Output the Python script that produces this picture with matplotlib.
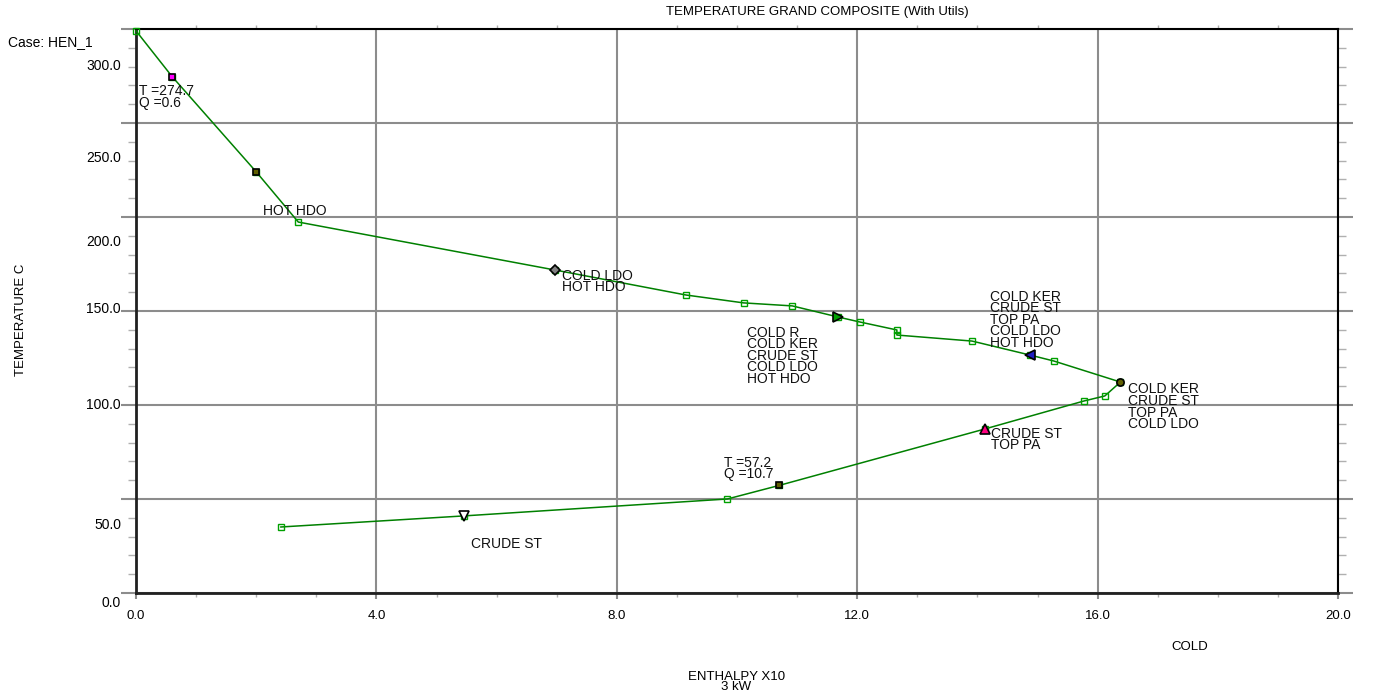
import matplotlib.pyplot as plt
from matplotlib.ticker import MultipleLocator

plt.rcParams['font.family'] = ['Liberation Sans', 'DejaVu Sans']

# grand composite curve (enthalpy x10^3 kW, temperature C)
enthalpy = [0.0, 0.6, 2.0, 2.7, 6.97, 9.15, 10.11, 10.92, 11.68, 12.05, 12.66, 12.66,
            13.91, 14.87, 15.27, 16.38, 16.12, 15.77, 14.12, 10.7, 9.84, 5.46, 2.41]
temperature = [299.0, 274.7, 224.0, 197.3, 171.8, 158.5, 154.3, 152.7, 146.8, 144.1, 139.9, 137.2,
               134.0, 126.6, 123.4, 112.2, 104.8, 102.1, 87.2, 57.2, 50.0, 41.0, 35.1]

# utility / stream change points: (index, marker, face colour, size)
special_pts = [(1, 's', '#ff00ff', 4.6), (2, 's', '#606000', 4.6), (4, 'D', '#808080', 4.6),
               (8, '>', '#00a000', 6.5), (13, '<', '#2020c0', 6.5), (15, 'o', '#606000', 5.2),
               (18, '^', '#ff0080', 6.5), (19, 's', '#606000', 4.6), (21, 'v', 'white', 6.5)]

# text labels: (text, Q, T)
labels = [
    ('T =274.7\nQ =0.6', 0.05, 270.5),
    ('HOT HDO', 2.11, 207.0),
    ('COLD LDO\nHOT HDO', 7.09, 172.5),
    ('COLD R\nCOLD KER\nCRUDE ST\nCOLD LDO\nHOT HDO', 10.17, 142.2),
    ('COLD KER\nCRUDE ST\nTOP PA\nCOLD LDO\nHOT HDO', 14.21, 161.3),
    ('COLD KER\nCRUDE ST\nTOP PA\nCOLD LDO', 16.5, 112.0),
    ('CRUDE ST\nTOP PA', 14.22, 88.5),
    ('T =57.2\nQ =10.7', 9.78, 73.0),
    ('CRUDE ST', 5.58, 30.0),
]

xtick_vals = [0, 4, 8, 12, 16, 20]
xtick_text = ['0.0', '4.0', '8.0', '12.0', '16.0', '20.0']

# y tick labels sit off the grid lines on this plot
ytick_text = ['300.0', '250.0', '200.0', '150.0', '100.0', '50.0', '0.0']
ytick_pos = [280.3, 231.4, 186.7, 151.0, 100.0, 36.2, -5.3]

fig = plt.figure(figsize=(13.74, 6.95), dpi=100)
ax = fig.add_axes([0.099, 0.1468, 0.8748, 0.8115])
ax.set_xlim(0, 20)
ax.set_ylim(0, 300)

ax.grid(True, which='major', color='#8c8c8c', linewidth=1.5)
ax.set_axisbelow(True)

ax.set_xticks(xtick_vals, xtick_text)
ax.xaxis.set_minor_locator(MultipleLocator(1))
ax.yaxis.set_major_locator(MultipleLocator(50))
ax.yaxis.set_minor_locator(MultipleLocator(10))

ax.tick_params(axis='y', which='major', left=True, right=True, length=11, width=1.5,
               color='#8c8c8c', labelleft=False)
ax.tick_params(axis='y', which='minor', left=True, right=True, length=6, width=1,
               color='#b0b0b0')
ax.tick_params(axis='x', which='major', top=False, bottom=True, length=4, width=1.5,
               color='#8c8c8c', labelsize=9.5, pad=8)
ax.tick_params(axis='x', which='minor', top=True, bottom=True, direction='out', length=3,
               width=1, color='#b0b0b0')

for side in ['left', 'bottom']:
    ax.spines[side].set_linewidth(2)
    ax.spines[side].set_color('#202020')
for side in ['top', 'right']:
    ax.spines[side].set_linewidth(1.5)

for t, yv in zip(ytick_text, ytick_pos):
    ax.text(-0.0125, yv, t, transform=ax.get_yaxis_transform(), ha='right', va='center',
            fontsize=10, clip_on=False)

ax.plot(enthalpy, temperature, color='#008000', linewidth=1.1, marker='s', markersize=4.4,
        markerfacecolor='none', markeredgecolor='#00a000', markeredgewidth=1, clip_on=False,
        zorder=3)

for i, m, fc, ms in special_pts:
    ax.plot(enthalpy[i], temperature[i], marker=m, markersize=ms, markerfacecolor=fc,
            markeredgecolor='black', markeredgewidth=1.2, linestyle='none', zorder=4)

for txt, q, t in labels:
    ax.text(q, t, txt, ha='left', va='top', fontsize=10, linespacing=0.78, color='#111111')

fig.text(0.595, 0.983, 'TEMPERATURE GRAND COMPOSITE (With Utils)', ha='center', va='center',
         fontsize=9.5)
fig.text(0.006, 0.94, 'Case: HEN_1', ha='left', va='center', fontsize=10)
fig.text(0.015, 0.54, 'TEMPERATURE C', ha='center', va='center', rotation=90, fontsize=9.5)
fig.text(0.536, 0.018, 'ENTHALPY X10\n3 kW', ha='center', va='center', fontsize=9.5,
         linespacing=0.78)
fig.text(0.866, 0.069, 'COLD', ha='center', va='center', fontsize=9.5)

fig.savefig('out.png', dpi=100)
